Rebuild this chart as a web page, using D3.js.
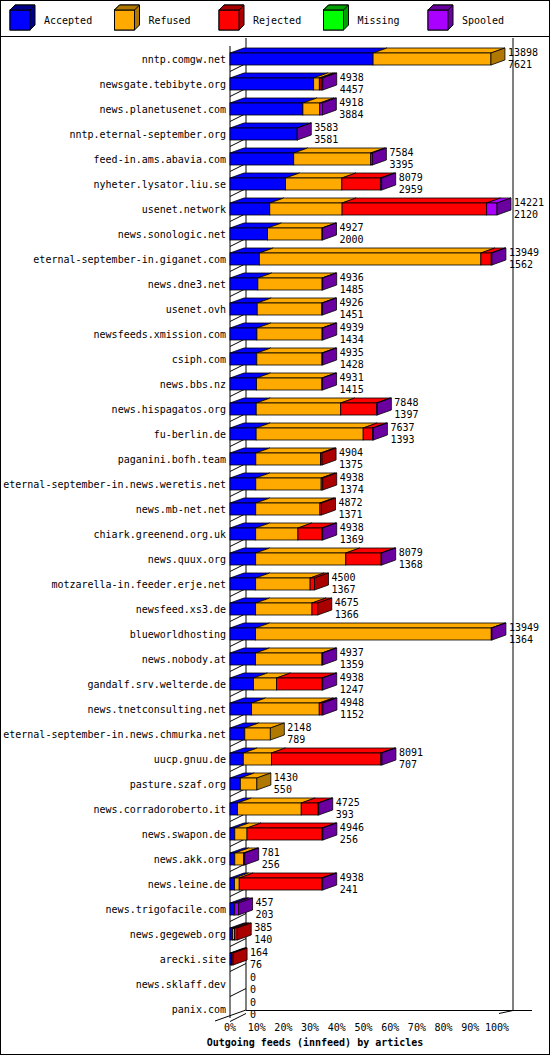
<!DOCTYPE html><html><head><meta charset="utf-8">
<script src="https://cdn.jsdelivr.net/npm/d3@7"></script>
<style>body{margin:0;background:#fff}text{font-family:"DejaVu Sans Mono",monospace;font-size:10px}</style></head><body>
<script>
const hosts=["nntp.comgw.net","newsgate.tebibyte.org","news.planetusenet.com","nntp.eternal-september.org","feed-in.ams.abavia.com","nyheter.lysator.liu.se","usenet.network","news.sonologic.net","eternal-september-in.giganet.com","news.dne3.net","usenet.ovh","newsfeeds.xmission.com","csiph.com","news.bbs.nz","news.hispagatos.org","fu-berlin.de","paganini.bofh.team","eternal-september-in.news.weretis.net","news.mb-net.net","chiark.greenend.org.uk","news.quux.org","motzarella-in.feeder.erje.net","newsfeed.xs3.de","blueworldhosting","news.nobody.at","gandalf.srv.welterde.de","news.tnetconsulting.net","eternal-september-in.news.chmurka.net","uucp.gnuu.de","pasture.szaf.org","news.corradoroberto.it","news.swapon.de","news.akk.org","news.leine.de","news.trigofacile.com","news.gegeweb.org","arecki.site","news.sklaff.dev","panix.com"];
const totals=[13898,4938,4918,3583,7584,8079,14221,4927,13949,4936,4926,4939,4935,4931,7848,7637,4904,4938,4872,4938,8079,4500,4675,13949,4937,4938,4948,2148,8091,1430,4725,4946,781,4938,457,385,164,0,0];
const accepted=[7621,4457,3884,3581,3395,2959,2120,2000,1562,1485,1451,1434,1428,1415,1397,1393,1375,1374,1371,1369,1368,1367,1366,1364,1359,1247,1152,789,707,550,393,256,256,241,203,140,76,0,0];
const refused=[6277,300,900,0,4100,3000,3850,2900,11800,3420,3440,3470,3470,3480,4500,5700,3450,3480,3420,2250,4800,2900,3000,12550,3540,1230,3600,1359,1500,880,3400,650,470,250,50,100,30,0,0];
const rejected=[0,100,0,0,0,2050,7700,0,550,0,0,0,0,0,1900,500,79,84,81,1280,1880,233,309,0,0,2430,150,0,5830,0,900,4000,0,4400,0,145,58,0,0];
const missing=hosts.map(()=>0);
const spooled=totals.map((t,i)=>Math.max(0,t-accepted[i]-refused[i]-rejected[i]-missing[i]));
const ticks=["0%","10%","20%","30%","40%","50%","60%","70%","80%","90%","100%"];
const series=[["Accepted",accepted,"#0000ff","#00008b"],["Refused",refused,"#ffaa00","#b07800"],["Rejected",rejected,"#ff0000","#aa0000"],["Missing",missing,"#00ff00","#00a000"],["Spooled",spooled,"#aa00ff","#6a00a0"]];

const W=550,H=1055,DX=16,DY=8,bx=14,by=5;
const svg=d3.select("body").append("svg").attr("width",W).attr("height",H);
svg.append("rect").attr("x",0.5).attr("y",0.5).attr("width",W-1).attr("height",H-1).attr("fill","#fff").attr("stroke","#000");
svg.append("line").attr("x1",0).attr("x2",W).attr("y1",36.5).attr("y2",36.5).attr("stroke","#000");
function cube(g,x,y,w,h,c,s){
  g.append("path").attr("d",`M${x},${y}L${x+bx},${y-by}L${x+w+bx},${y-by}L${x+w},${y}Z`).attr("fill",c).attr("stroke","#000").attr("stroke-width",0.8);
  g.append("rect").attr("x",x).attr("y",y).attr("width",w).attr("height",h).attr("fill",c).attr("stroke","#000").attr("stroke-width",0.8);
  return g;
}
series.forEach((s,i)=>{
  const x=10+i*104.5;
  const g=svg.append("g");
  g.append("path").attr("d",`M${x},${10}L${x+5},${5}L${x+25},${5}L${x+25},${25}L${x+20},${30}L${x},${30}Z`).attr("fill",s[3]).attr("stroke","#000");
  g.append("rect").attr("x",x).attr("y",10).attr("width",20).attr("height",20).attr("fill",s[2]).attr("stroke","#000");
  g.append("path").attr("d",`M${x},10L${x+5},5L${x+25},5L${x+20},10Z`).attr("fill",s[3]).attr("stroke","#000");
  svg.append("text").attr("x",x+34).attr("y",24).text(s[0]);
});
const x0=230,x1=497;
const x=d3.scaleLinear().domain([0,d3.max(totals)]).range([x0,x1]);
const pct=d3.scaleLinear().domain([0,100]).range([x0,x1]);
const y=d3.scaleBand().domain(hosts).range([46.5,1021.5]).paddingInner(0.5).paddingOuter(0.25);
const step=y.step();
const grid=svg.append("g").attr("stroke","#000").attr("fill","none");
grid.append("line").attr("x1",x0+DX).attr("x2",x0+DX).attr("y1",38).attr("y2",1010);
grid.append("line").attr("x1",x1+DX).attr("x2",x1+DX).attr("y1",38).attr("y2",1010);
grid.append("line").attr("x1",x0+DX).attr("x2",532).attr("y1",1010.5).attr("y2",1010.5);
grid.append("line").attr("x1",x1+DX).attr("x2",x1+2).attr("y1",1010.5).attr("y2",1013.5);
grid.append("line").attr("x1",x0).attr("x2",x0).attr("y1",46).attr("y2",1018);
hosts.forEach((h,i)=>{const yy=y(h)+y.bandwidth()+step*0.25;
  grid.append("line").attr("x1",x0).attr("y1",yy).attr("x2",x0+DX).attr("y2",yy-DY);});
grid.append("line").attr("x1",215).attr("y1",1021).attr("x2",x0+DX).attr("y2",1010);
hosts.forEach((h,i)=>{
  const cy=y(h)+y.bandwidth()/2, top=cy-6;
  svg.append("text").attr("x",226).attr("y",cy+4).attr("text-anchor","end").text(h);
  let cum=0; const g=svg.append("g");
  let last=null;
  series.forEach(s=>{const v=s[1][i]; if(v<=0)return;
    const xa=x(cum),xb=x(cum+v);cum+=v;
    cube(g,xa,top,xb-xa,12,s[2],s[3]);last=[xb,s[3]];});
  if(last){g.append("path").attr("d",`M${last[0]},${top}L${last[0]+bx},${top-by}L${last[0]+bx},${top+12-by}L${last[0]},${top+12}Z`).attr("fill",last[1]).attr("stroke","#000").attr("stroke-width",0.8);}
  const lx=x(totals[i])+(totals[i]>0?bx+3:DX+4);
  svg.append("text").attr("x",lx).attr("y",cy-3).text(totals[i]);
  svg.append("text").attr("x",lx).attr("y",cy+9).text(accepted[i]);
});
ticks.forEach((t,i)=>svg.append("text").attr("x",pct(i*10)).attr("y",1031).attr("text-anchor","middle").text(t));
svg.append("text").attr("x",315).attr("y",1046).attr("text-anchor","middle").attr("font-weight","bold").text("Outgoing feeds (innfeed) by articles");
</script></body></html>
